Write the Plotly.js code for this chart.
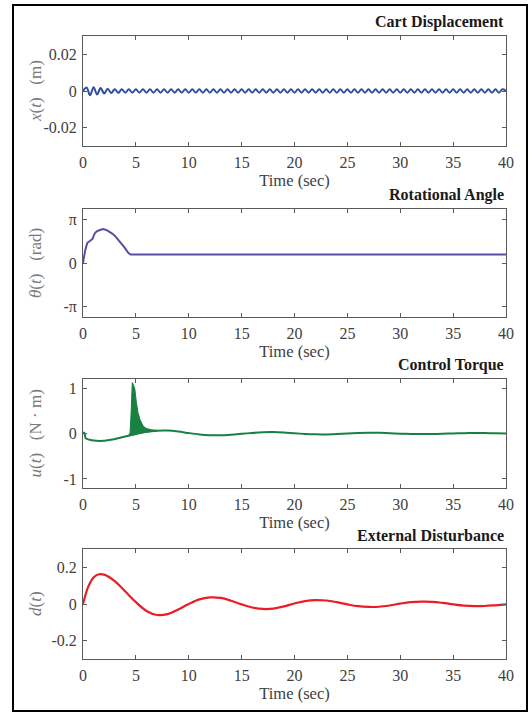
<!DOCTYPE html>
<html>
<head>
<meta charset="utf-8">
<script src="https://cdn.plot.ly/plotly-3.0.1.min.js"></script>
<style>html,body{margin:0;padding:0;background:#fff;}#chart{width:532px;height:714px;}</style>
</head>
<body>
<div id="chart"></div>
<script>
// ---------- data ----------
var panelTitles = ['Cart Displacement', 'Rotational Angle', 'Control Torque', 'External Disturbance'];
var yTitles = ['<i>x</i>(<i>t</i>)   (m)', '<i>θ</i>(<i>t</i>)   (rad)', '<i>u</i>(<i>t</i>)   (N · m)', '<i>d</i>(<i>t</i>)'];
var xTickVals = [0, 5, 10, 15, 20, 25, 30, 35, 40];

// cart displacement, samples every 1/3 s (alternating peaks / troughs)
var cartStart = 0;
var cartStep = 1 / 3;
var cartX = [0, 0.0019, -0.0023, 0.0021, -0.0019, 0.0016, -0.0014, 0.0012, -0.0011, 0.001,
  -0.001, 0.0009, -0.0009, 0.0009, -0.0009, 0.0009, -0.0009, 0.0009, -0.0009, 0.0009,
  -0.0009, 0.0009, -0.0009, 0.0009, -0.0009, 0.0009, -0.0009, 0.0009, -0.0009, 0.0009,
  -0.0009, 0.0009, -0.0009, 0.0009, -0.0009, 0.0009, -0.0009, 0.0009, -0.0009, 0.0009,
  -0.0009, 0.0009, -0.0009, 0.0009, -0.0009, 0.0009, -0.0009, 0.0009, -0.0009, 0.0009,
  -0.0009, 0.0009, -0.0009, 0.0009, -0.0009, 0.0009, -0.0009, 0.0009, -0.0009, 0.0009,
  -0.0009, 0.0009, -0.0009, 0.0009, -0.0009, 0.0009, -0.0009, 0.0009, -0.0009, 0.0009,
  -0.0009, 0.0009, -0.0009, 0.0009, -0.0009, 0.0009, -0.0009, 0.0009, -0.0009, 0.0009,
  -0.0009, 0.0009, -0.0009, 0.0009, -0.0009, 0.0009, -0.0009, 0.0009, -0.0009, 0.0009,
  -0.0009, 0.0009, -0.0009, 0.0009, -0.0009, 0.0009, -0.0009, 0.0009, -0.0009, 0.0009,
  -0.0009, 0.0009, -0.0009, 0.0009, -0.0009, 0.0009, -0.0009, 0.0009, -0.0009, 0.0009,
  -0.0009, 0.0009, -0.0009, 0.0009, -0.0009, 0.0009, -0.0009, 0.0009, -0.0009, 0.0009, 0];

// rotational angle
var thetaT = [0, 0.2, 0.4, 0.6, 0.9, 1.1, 1.3, 1.6, 1.9, 2.2, 2.5, 2.8, 3.1, 3.5, 3.9, 4.3, 4.5, 40];
var thetaV = [0, 0.9, 1.45, 1.6, 1.75, 2.15, 2.3, 2.4, 2.47, 2.4, 2.28, 2.12, 1.9, 1.55, 1.15, 0.72, 0.62, 0.62];

// control torque (smooth part)
var torqueT = [0, 0.08, 0.15, 0.25, 0.5, 1, 1.6, 2.5, 3.5, 4.4, 5, 6, 7, 8, 9, 10, 11, 12, 13, 14, 15, 16, 17, 18, 19, 20,
  21, 22, 23, 24, 25, 26, 27, 28, 29, 30, 31, 32, 33, 34, 35, 36, 37, 38, 39, 40];
var torqueV = [0, 0.02, 0.0, -0.1, -0.13, -0.155, -0.165, -0.145, -0.095, -0.045, -0.01, 0.04, 0.063, 0.065, 0.045, 0.01,
  -0.02, -0.037, -0.04, -0.028, -0.008, 0.013, 0.028, 0.032, 0.022, 0.005, -0.01, -0.019, -0.02, -0.012, 0.0, 0.011,
  0.017, 0.016, 0.008, -0.003, -0.01, -0.013, -0.012, -0.006, 0.002, 0.008, 0.011, 0.01, 0.005, 0.0];
// control torque, high-frequency chattering band (envelope)
var bandT = [4.35, 4.45, 4.55, 4.6, 4.66, 4.75, 4.9, 5.05, 5.2, 5.4, 5.7, 6.0, 6.5, 7.0];
var bandUpper = [-0.03, 0.02, 0.45, 1.0, 1.12, 1.08, 0.98, 0.68, 0.46, 0.30, 0.16, 0.11, 0.08, 0.07];
var bandLower = [-0.05, -0.045, -0.04, -0.04, -0.035, -0.03, -0.02, -0.01, 0.0, 0.01, 0.025, 0.035, 0.045, 0.05];

// external disturbance
var distT = [0, 0.5, 1, 1.5, 2, 3, 4, 5, 6, 7, 8, 9, 10, 11, 12, 13, 14, 15, 16, 17, 18, 19, 20, 21, 22, 23, 24, 25,
  26, 27, 28, 29, 30, 31, 32, 33, 34, 35, 36, 37, 38, 39, 40];
var distV = [0, 0.095, 0.145, 0.162, 0.16, 0.125, 0.068, 0.01, -0.038, -0.06, -0.055, -0.03, 0.0, 0.025, 0.036, 0.033,
  0.018, -0.002, -0.019, -0.027, -0.025, -0.013, 0.003, 0.016, 0.021, 0.019, 0.01, -0.002, -0.012, -0.016, -0.015,
  -0.008, 0.002, 0.01, 0.013, 0.012, 0.006, -0.002, -0.009, -0.012, -0.011, -0.007, -0.002];

var yRanges = [[-0.03, 0.03], [-1.25 * Math.PI, 1.25 * Math.PI], [-1.2, 1.2], [-0.3, 0.3]];
var yTickVals = [[-0.02, 0, 0.02], [-Math.PI, 0, Math.PI], [-1, 0, 1], [-0.2, 0, 0.2]];
var yTickText = [['-0.02', '0', '0.02'], ['-π', '0', 'π'], ['-1', '0', '1'], ['-0.2', '0', '0.2']];

// ---------- styling ----------
var W = 532, H = 714;
var plotLeft = 83, plotRight = 506;
var panelTop = [36, 209, 379, 549];
var panelBottom = [146, 317, 488, 659];
var colors = ['#2f4ea3', '#5b4ba6', '#188040', '#ec1c24'];
var font = 'Liberation Serif, Times New Roman, serif';
var axisColor = '#5a5a5a';
var textColor = '#404040';

var traces = [
  {x0: cartStart, dx: cartStep, y: cartX, type: 'scatter', mode: 'lines', line: {color: colors[0], width: 2, shape: 'spline', smoothing: 1}, xaxis: 'x', yaxis: 'y', hoverinfo: 'skip'},
  {x: thetaT, y: thetaV, type: 'scatter', mode: 'lines', line: {color: colors[1], width: 2}, xaxis: 'x2', yaxis: 'y2'},
  {x: bandT.concat(bandT.slice().reverse()), y: bandUpper.concat(bandLower.slice().reverse()), type: 'scatter', mode: 'lines', fill: 'toself', fillcolor: colors[2], line: {color: colors[2], width: 1}, xaxis: 'x3', yaxis: 'y3'},
  {x: torqueT, y: torqueV, type: 'scatter', mode: 'lines', line: {color: colors[2], width: 2, shape: 'spline', smoothing: 0.8}, xaxis: 'x3', yaxis: 'y3'},
  {x: distT, y: distV, type: 'scatter', mode: 'lines', line: {color: colors[3], width: 2.2, shape: 'spline', smoothing: 1}, xaxis: 'x4', yaxis: 'y4'}
];

var layout = {
  width: W, height: H,
  margin: {l: 0, r: 0, t: 0, b: 0},
  paper_bgcolor: '#fff', plot_bgcolor: '#fff',
  showlegend: false,
  font: {family: font, color: textColor, size: 16},
  annotations: [],
  shapes: [{type: 'rect', xref: 'paper', yref: 'paper', x0: 13 / W, x1: 527 / W, y0: 1 - 711 / H, y1: 1 - 5 / H, line: {color: '#000', width: 2}}]
};

for (var i = 0; i < 4; i++) {
  var sfx = i === 0 ? '' : String(i + 1);
  layout['xaxis' + sfx] = {
    domain: [plotLeft / W, plotRight / W], anchor: 'y' + sfx, range: [0, 40],
    tickvals: xTickVals, ticks: 'inside', ticklen: 4, tickcolor: axisColor,
    showline: true, linecolor: axisColor, linewidth: 1, mirror: 'ticks', showgrid: false, zeroline: false,
    tickfont: {family: font, size: 16, color: textColor}, ticklabelstandoff: 2,
    title: {text: 'Time (sec)', font: {family: font, size: 16.5, color: textColor}, standoff: 3}
  };
  layout['yaxis' + sfx] = {
    domain: [1 - panelBottom[i] / H, 1 - panelTop[i] / H], anchor: 'x' + sfx, range: yRanges[i],
    tickvals: yTickVals[i], ticktext: yTickText[i], ticks: 'inside', ticklen: 4, tickcolor: axisColor,
    showline: true, linecolor: axisColor, linewidth: 1, mirror: 'ticks', showgrid: false, zeroline: false,
    tickfont: {family: font, size: 16, color: textColor}, ticklabelstandoff: 2
  };
  layout.annotations.push({
    text: '<b>' + panelTitles[i] + '</b>', xref: 'paper', yref: 'paper',
    x: plotRight / W, y: 1 - (panelTop[i] - 14) / H, xanchor: 'right', yanchor: 'middle', showarrow: false,
    font: {family: font, size: 16, color: '#1a1a1a'}
  });
  layout.annotations.push({
    text: yTitles[i], xref: 'paper', yref: 'paper', textangle: -90,
    x: 35 / W, y: 1 - (panelTop[i] + panelBottom[i]) / 2 / H, xanchor: 'center', yanchor: 'middle', showarrow: false,
    font: {family: font, size: 17, color: '#7a7a7a'}
  });
}

Plotly.newPlot('chart', traces, layout, {displayModeBar: false, staticPlot: true});
</script>
</body>
</html>
